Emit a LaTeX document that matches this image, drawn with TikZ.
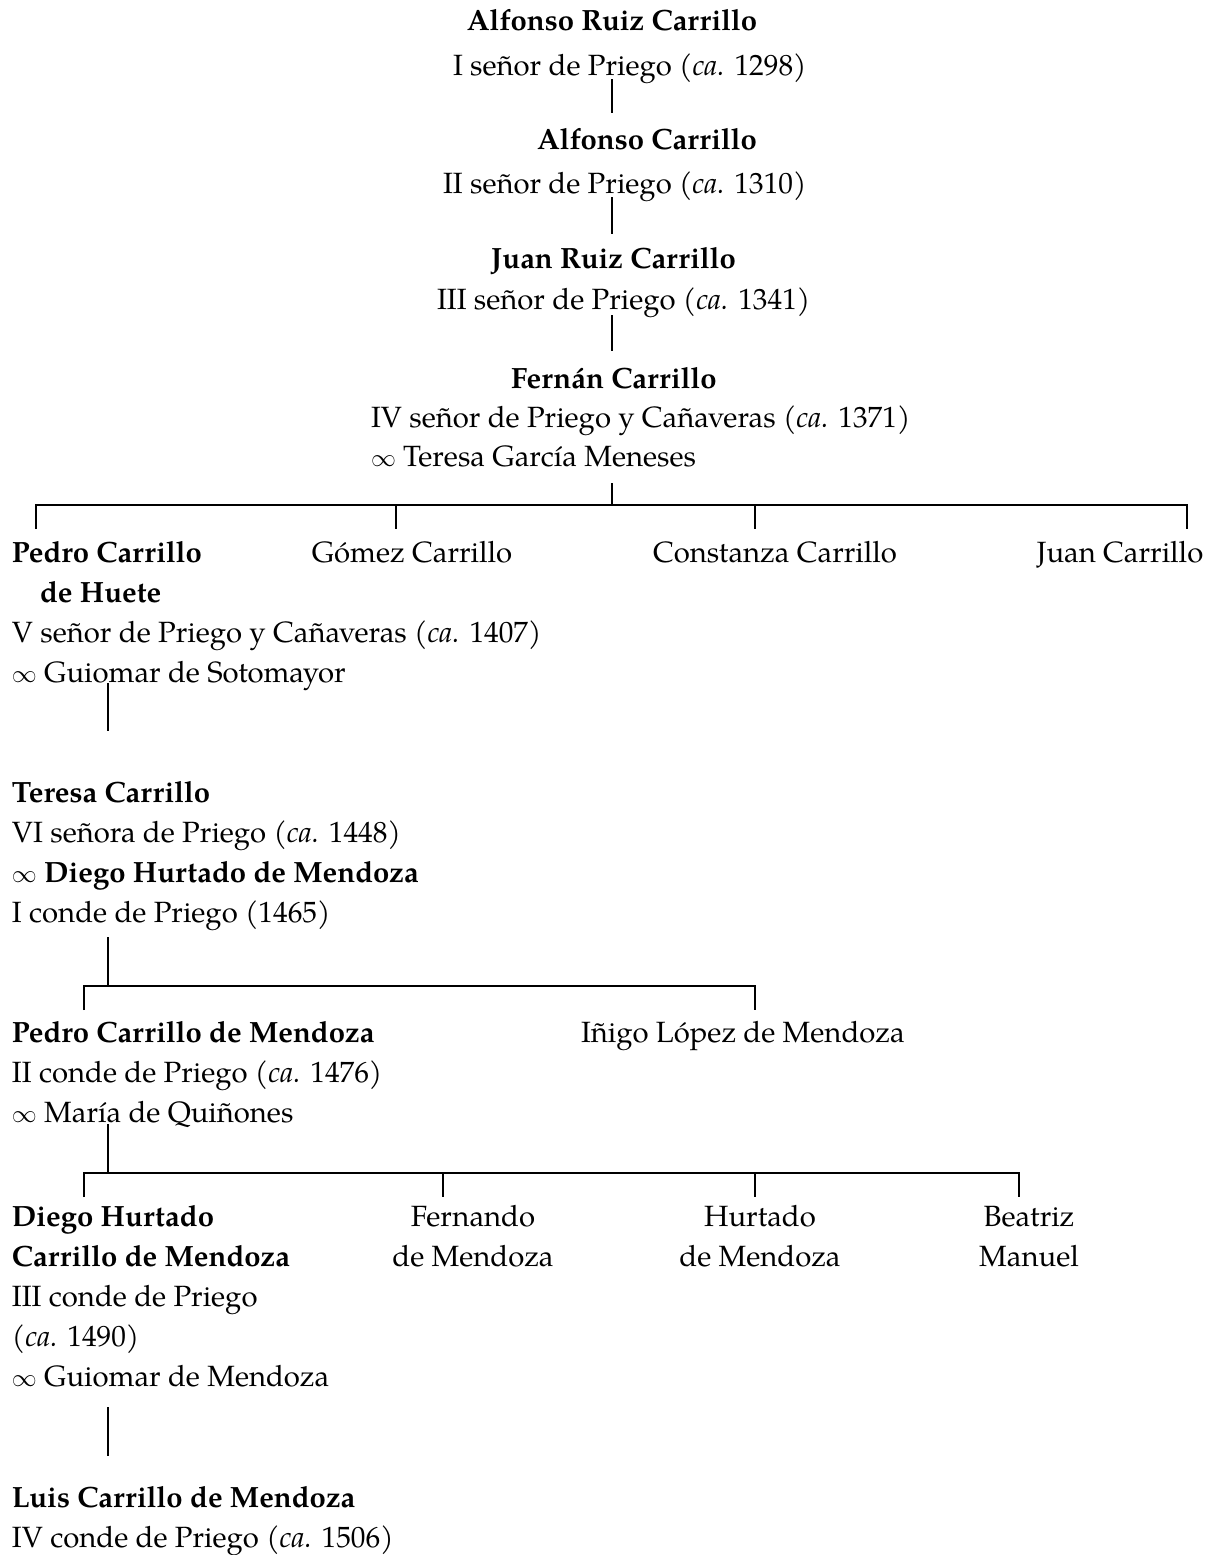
\documentclass[tikz,border=0pt]{standalone}
\usepackage{fontspec}
\setmainfont{TeX Gyre Pagella}
\newcommand{\circa}{\textit{ca.}}
\newcommand{\wed}{$\infty$\ }
\begin{document}
\begin{tikzpicture}[x=1pt,y=-1pt,
  txt/.style={inner sep=0pt, outer sep=0pt, font=\fontsize{29.3}{40}\selectfont},
  L/.style={txt, anchor=base west},
  C/.style={txt, anchor=base},
  LB/.style={L, font=\fontsize{29.3}{40}\selectfont\bfseries},
  CB/.style={C, font=\fontsize{29.3}{40}\selectfont\bfseries},
  chain/.style={line width=2.6pt},
  bar/.style={line width=2.2pt},
  tick/.style={line width=1.7pt}]
\useasboundingbox (0,0) rectangle (1216,1555);

% --- direct line of the lords of Priego
\node[CB] (a1n) at (612,31)  {Alfonso Ruiz Carrillo};
\node[L]  (a1t) at (453,76)  {I señor de Priego (\circa{} 1298)};
\node[LB] (a2n) at (537,149) {Alfonso Carrillo};
\node[L]  (a2t) at (443,193) {II señor de Priego (\circa{} 1310)};
\node[LB] (a3n) at (491,268) {Juan Ruiz Carrillo};
\node[L]  (a3t) at (437,309) {III señor de Priego (\circa{} 1341)};
\node[LB] (a4n) at (511,388) {Fernán Carrillo};
\node[L]  (a4t) at (371,427) {IV señor de Priego y Cañaveras (\circa{} 1371)};
\node[L]  (a4m) at (371,466) {\wed Teresa García Meneses};

\coordinate (c1a) at (612,79);  \coordinate (c1b) at (612,113);
\coordinate (c2a) at (612,197); \coordinate (c2b) at (612,234);
\coordinate (c3a) at (612,315); \coordinate (c3b) at (612,351);
\draw[chain] (c1a) -- (c1b);
\draw[chain] (c2a) -- (c2b);
\draw[chain] (c3a) -- (c3b);

% --- children of Fernán Carrillo
\coordinate (f0) at (612,483); \coordinate (fj) at (612,505);
\coordinate (fL) at (36,505);  \coordinate (fR) at (1187,505);
\coordinate (fk1) at (36,529);  \coordinate (fk2a) at (396,505);  \coordinate (fk2) at (396,529);
\coordinate (fk3a) at (755,505); \coordinate (fk3) at (755,529); \coordinate (fk4) at (1187,529);
\draw[tick] (f0) -- (fj);
\draw[bar] (fk1) -- (fL) -- (fR) -- (fk4);
\draw[tick] (fk2a) -- (fk2);
\draw[tick] (fk3a) -- (fk3);

\node[LB] (b1n)  at (12,562)  {Pedro Carrillo};
\node[LB] (b1n2) at (40,602)  {de Huete};
\node[L]  (b1t)  at (12,642)  {V señor de Priego y Cañaveras (\circa{} 1407)};
\node[L]  (b1m)  at (12,682)  {\wed Guiomar de Sotomayor};
\node[C]  (b2)   at (412,562) {Gómez Carrillo};
\node[C]  (b3)   at (775,562) {Constanza Carrillo};
\node[C]  (b4)   at (1120,562) {Juan Carrillo};

\coordinate (p1a) at (108,683); \coordinate (p1b) at (108,731);
\draw[tick] (p1a) -- (p1b);

% --- Teresa Carrillo
\node[LB] (tn) at (12,802) {Teresa Carrillo};
\node[L]  (tt) at (12,842) {VI señora de Priego (\circa{} 1448)};
\node[L]  (tm) at (12,882) {\wed\textbf{Diego Hurtado de Mendoza}};
\node[L]  (tc) at (12,922) {I conde de Priego (1465)};

\coordinate (t0) at (108,937); \coordinate (tj) at (108,986);
\coordinate (tL) at (84,986);  \coordinate (tR) at (755,986);
\coordinate (tk1) at (84,1010); \coordinate (tk2) at (755,1010);
\draw[tick] (t0) -- (tj);
\draw[tick] (tk1) -- (tL) -- (tR) -- (tk2);

\node[LB] (dn) at (12,1042)  {Pedro Carrillo de Mendoza};
\node[L]  (dt) at (12,1082)  {II conde de Priego (\circa{} 1476)};
\node[L]  (dm) at (12,1122)  {\wed María de Quiñones};
\node[L]  (d2) at (581,1042) {Iñigo López de Mendoza};

% --- children of Pedro Carrillo de Mendoza
\coordinate (q0) at (108,1124); \coordinate (qj) at (108,1173);
\coordinate (qL) at (84,1173);  \coordinate (qR) at (1019,1173);
\coordinate (qk1) at (84,1197);
\coordinate (qk2a) at (443,1173); \coordinate (qk2) at (443,1197);
\coordinate (qk3a) at (755,1173); \coordinate (qk3) at (755,1197);
\coordinate (qk4) at (1019,1197);
\draw[tick] (q0) -- (qj);
\draw[tick] (qk1) -- (qL) -- (qR) -- (qk4);
\draw[tick] (qk2a) -- (qk2);
\draw[tick] (qk3a) -- (qk3);

\node[LB] (en)  at (12,1226) {Diego Hurtado};
\node[LB] (en2) at (12,1266) {Carrillo de Mendoza};
\node[L]  (et)  at (12,1306) {III conde de Priego};
\node[L]  (et2) at (12,1346) {(\circa{} 1490)};
\node[L]  (em)  at (12,1386) {\wed Guiomar de Mendoza};
\node[C]  (e2)  at (473,1226) {Fernando};
\node[C]  (e2b) at (473,1266) {de Mendoza};
\node[C]  (e3)  at (760,1226) {Hurtado};
\node[C]  (e3b) at (760,1266) {de Mendoza};
\node[C]  (e4)  at (1029,1226) {Beatriz};
\node[C]  (e4b) at (1029,1266) {Manuel};

\coordinate (g0) at (108,1407); \coordinate (g1) at (108,1456);
\draw[tick] (g0) -- (g1);

% --- Luis Carrillo de Mendoza
\node[LB] (ln) at (12,1507) {Luis Carrillo de Mendoza};
\node[L]  (lt) at (12,1547) {IV conde de Priego (\circa{} 1506)};
\end{tikzpicture}
\end{document}
